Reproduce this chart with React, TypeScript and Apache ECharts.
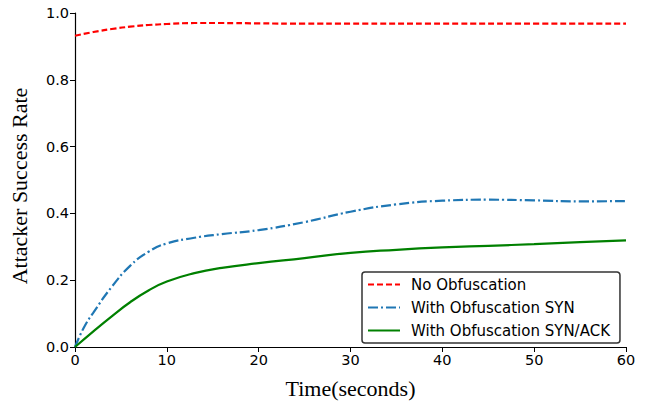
import React, { useEffect, useRef } from "react";
import * as echarts from "echarts";

const timeNoObf = [0, 2, 4, 6, 8, 10, 13, 16, 20, 25, 30, 40, 50, 60];
const noObf = [0.932, 0.943, 0.952, 0.959, 0.964, 0.967, 0.97, 0.97, 0.969, 0.968, 0.968, 0.968, 0.968, 0.968];

const timeSyn = [0, 1, 2, 4, 6, 8, 10, 13, 16, 20, 25, 30, 35, 40, 45, 50, 55, 60];
const syn = [0.0, 0.06, 0.103, 0.18, 0.243, 0.285, 0.31, 0.327, 0.338, 0.35, 0.374, 0.405, 0.427, 0.438, 0.441, 0.439, 0.436, 0.437];

const timeSynAck = [0, 2, 4, 6, 8, 10, 13, 16, 20, 25, 30, 35, 40, 45, 50, 55, 60];
const synAck = [0.0, 0.047, 0.092, 0.134, 0.169, 0.196, 0.221, 0.237, 0.251, 0.266, 0.282, 0.291, 0.298, 0.303, 0.308, 0.314, 0.319];

const xTicks = [0, 10, 20, 30, 40, 50, 60];
const seriesNames = ["No Obfuscation", "With Obfuscation SYN", "With Obfuscation SYN/ACK"];

const pair = (xs: number[], ys: number[]) => xs.map((x, i) => [x, ys[i]]);

export default function App() {
  const ref = useRef<HTMLDivElement>(null);
  useEffect(() => {
    if (!ref.current) return;
    const chart = echarts.init(ref.current, undefined, { renderer: "svg" });
    const tickFont = { fontFamily: "DejaVu Sans", fontSize: 14.5, color: "#000" };
    chart.setOption({
      animation: false,
      backgroundColor: "#fff",
      grid: { left: 74, right: 21, top: 13, bottom: 54 },
      xAxis: {
        type: "value",
        min: 0,
        max: 60,
        interval: 10,
        name: "Time(seconds)",
        nameLocation: "middle",
        nameGap: 30,
        nameTextStyle: { fontFamily: "Liberation Serif", fontSize: 22, color: "#000" },
        axisLine: { show: true, lineStyle: { color: "#000", width: 1.2 } },
        axisTick: { show: true, length: 5, lineStyle: { color: "#000" } },
        axisLabel: { ...tickFont, margin: 5, customValues: xTicks },
        splitLine: { show: false },
      },
      yAxis: {
        type: "value",
        min: 0,
        max: 1.0,
        interval: 0.2,
        name: "Attacker Success Rate",
        nameLocation: "middle",
        nameGap: 45,
        nameTextStyle: { fontFamily: "Liberation Serif", fontSize: 22, color: "#000", padding: [0, 12, 0, 0] },
        axisLine: { show: true, lineStyle: { color: "#000", width: 1.2 } },
        axisTick: { show: true, length: 5, lineStyle: { color: "#000" } },
        axisLabel: { ...tickFont, margin: 6, formatter: (v: number) => v.toFixed(1) },
        splitLine: { show: false },
      },
      legend: {
        orient: "vertical",
        left: 362,
        top: 272,
        itemWidth: 32,
        itemHeight: 14,
        itemGap: 8,
        padding: [5, 10, 5, 5],
        borderColor: "#333",
        borderWidth: 1.5,
        borderRadius: 3,
        backgroundColor: "#fff",
        itemStyle: { opacity: 0 },
        textStyle: { fontFamily: "DejaVu Sans", fontSize: 15, color: "#000", lineHeight: 14, padding: [0, 0, 0, 6] },
        data: seriesNames,
      },
      series: [
        {
          name: seriesNames[0],
          type: "line",
          smooth: 0.5,
          showSymbol: false,
          symbol: "none",
          data: pair(timeNoObf, noObf),
          lineStyle: { color: "#ff0000", width: 2.2, type: [6, 3] },
          itemStyle: { color: "#ff0000" },
        },
        {
          name: seriesNames[1],
          type: "line",
          smooth: 0.5,
          showSymbol: false,
          symbol: "none",
          data: pair(timeSyn, syn),
          lineStyle: { color: "#1f77b4", width: 2.2, type: [10, 3, 2, 3] },
          itemStyle: { color: "#1f77b4" },
        },
        {
          name: seriesNames[2],
          type: "line",
          smooth: 0.5,
          showSymbol: false,
          symbol: "none",
          data: pair(timeSynAck, synAck),
          lineStyle: { color: "#008000", width: 2.2 },
          itemStyle: { color: "#008000" },
        },
      ],
    });
    return () => chart.dispose();
  }, []);
  return <div ref={ref} style={{ width: 647, height: 404, position: "absolute", left: 0, top: 0 }} />;
}
